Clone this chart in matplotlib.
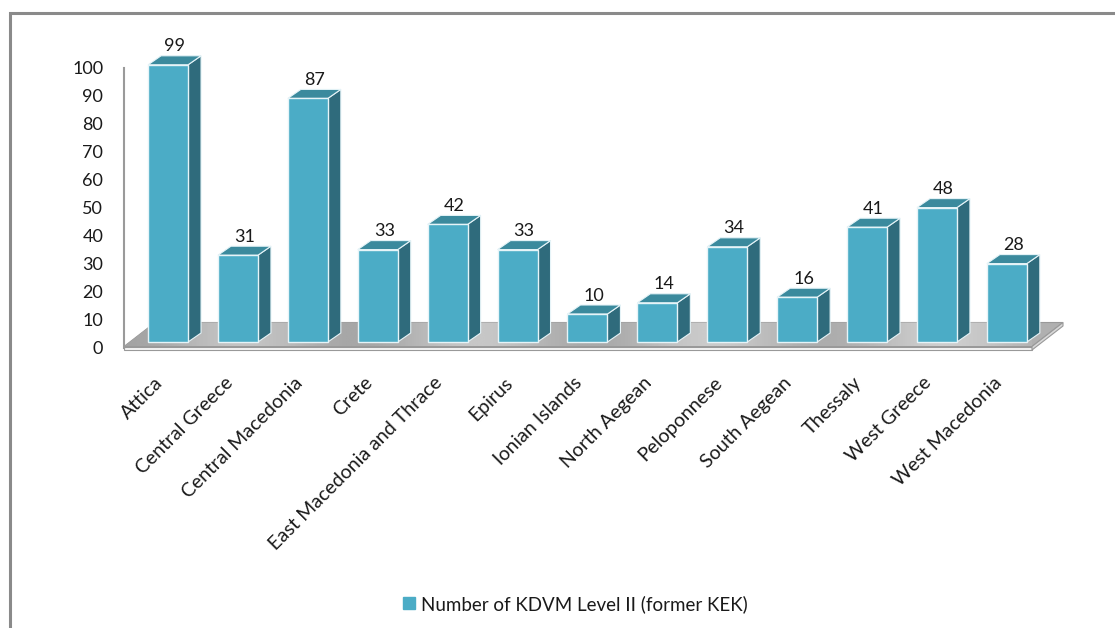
import matplotlib
matplotlib.use("Agg")
import matplotlib.pyplot as plt
import numpy as np
from matplotlib.patches import Polygon, Rectangle
from matplotlib.lines import Line2D
from matplotlib.transforms import ScaledTranslation

categories = ["Attica", "Central Greece", "Central Macedonia", "Crete",
              "East Macedonia and Thrace", "Epirus", "Ionian Islands",
              "North Aegean", "Peloponnese", "South Aegean", "Thessaly",
              "West Greece", "West Macedonia"]
values = [99, 31, 87, 33, 42, 33, 10, 14, 34, 16, 41, 48, 28]
yticks = [0, 10, 20, 30, 40, 50, 60, 70, 80, 90, 100]
series_name = "Number of KDVM Level II (former KEK)"

FRONT = "#4bacc6"
TOP = "#3b8a9d"
SIDE = "#2f6b7c"
FONT = "Lato"

W, H = 1115, 628
fig = plt.figure(figsize=(W / 100, H / 100), dpi=100)

# axes geometry in pixels (from top-left)
ax_left, ax_right = 124, 1032
ax_top, ax_bottom = 68, 348
xmin, xmax = -0.63, 12.36
ax = fig.add_axes([ax_left / W, (H - ax_bottom) / H,
                   (ax_right - ax_left) / W, (ax_bottom - ax_top) / H])

pxx = (ax_right - ax_left) / (xmax - xmin)   # pixels per x unit
pxy = (ax_bottom - ax_top) / 100.0           # pixels per y unit

def dx(p):
    return p / pxx

def dy(p):
    return p / pxy

# figure border (clipped at right/bottom like the reference)
fig.add_artist(Rectangle((10 / W, -0.05), 1.2, (H - 13) / H + 0.05,
                         transform=fig.transFigure, fill=False,
                         edgecolor="#8a8a8a", linewidth=2.2, zorder=0))

# floor slab
fl_back = (dx(31), dy(24))
top_front = dy(1.5)
floor_top = [(xmin, top_front), (xmax, top_front),
             (xmax + fl_back[0], top_front + fl_back[1]),
             (xmin + fl_back[0], top_front + fl_back[1])]
poly = Polygon(floor_top, closed=True, facecolor="#b0b0b0",
               edgecolor="#999999", linewidth=0.8, clip_on=False, zorder=1)
ax.add_patch(poly)
grad = np.linspace(0, 1, 256)
row = 0.64 + 0.05 * grad + 0.12 * np.sin(grad * np.pi * 4.0) ** 2
img = np.tile(row, (10, 1))
im = ax.imshow(img, cmap="gray", vmin=0, vmax=1, aspect="auto",
               extent=(xmin, xmax + fl_back[0], top_front, top_front + fl_back[1]),
               zorder=1.5, interpolation="bilinear")
im.set_clip_box(None)
im.set_clip_path(poly)
ax.set_xlim(xmin, xmax)
ax.set_ylim(0, 100)
front_face = Polygon([(xmin, -dy(2)), (xmax, -dy(2)), (xmax, top_front),
                      (xmin, top_front)], closed=True, facecolor="#f4f4f4",
                     edgecolor="#999999", linewidth=0.8, clip_on=False, zorder=2)
ax.add_patch(front_face)
side_slab = Polygon([(xmax, -dy(2)), (xmax + fl_back[0], -dy(2) + fl_back[1]),
                     (xmax + fl_back[0], top_front + fl_back[1]), (xmax, top_front)],
                    closed=True, facecolor="#d8d8d8", edgecolor="#999999",
                    linewidth=0.8, clip_on=False, zorder=2)
ax.add_patch(side_slab)

# bars
x = np.arange(len(categories))
bw = dx(40)
base = dy(6)
ddx, ddy = dx(13), dy(9)
bars = ax.bar(x, values, width=bw, bottom=base, color=FRONT,
              edgecolor="#e6f4f8", linewidth=1.0, zorder=4, clip_on=False)
for xi, v in zip(x, values):
    r = xi + bw / 2
    l = xi - bw / 2
    t = base + v
    side = Polygon([(r, base), (r, t), (r + ddx, t + ddy), (r + ddx, base + ddy)],
                   closed=True, facecolor=SIDE, edgecolor="#e6f4f8",
                   linewidth=0.8, zorder=3, clip_on=False)
    top = Polygon([(l, t), (r, t), (r + ddx, t + ddy), (l + ddx, t + ddy)],
                  closed=True, facecolor=TOP, edgecolor="#e6f4f8",
                  linewidth=0.8, zorder=3, clip_on=False)
    ax.add_patch(side)
    ax.add_patch(top)
    ax.annotate(str(v), (xi + ddx / 2, t + ddy), xytext=(0, 1),
                textcoords="offset points", ha="center", va="bottom",
                fontsize=13, family=FONT, color="#1a1a1a",
                annotation_clip=False, zorder=6)

# axes styling
for s in ["top", "right", "bottom"]:
    ax.spines[s].set_visible(False)
ax.spines["left"].set_color("#9a9a9a")
ax.spines["left"].set_linewidth(1.5)
ax.spines["left"].set_zorder(5)
ax.patch.set_visible(False)
ax.set_yticks(yticks)
ax.set_yticklabels([str(t) for t in yticks], fontsize=13, family=FONT,
                   color="#1a1a1a")
ax.tick_params(axis="y", length=0, pad=15)
ax.set_xticks(x)
ax.set_xticklabels(categories, rotation=45, ha="right", va="center",
                   rotation_mode="anchor", fontsize=14, family=FONT,
                   color="#1a1a1a")
ax.tick_params(axis="x", length=0, pad=23)
for lab in ax.get_xticklabels():
    lab.set_transform(lab.get_transform() +
                      ScaledTranslation(-8 / 100, 0, fig.dpi_scale_trans))

# legend
handle = Line2D([], [], linestyle="none", marker="s", markersize=8,
                markerfacecolor=FRONT, markeredgecolor=FRONT)
fig.legend([handle], [series_name], loc="center",
           bbox_to_anchor=(574 / W, 1 - 604 / H), frameon=False,
           prop={"family": FONT, "size": 13.5}, handletextpad=0.2,
           handlelength=0.9, labelcolor="#1a1a1a")

fig.savefig("out.png", dpi=100, facecolor="white")
